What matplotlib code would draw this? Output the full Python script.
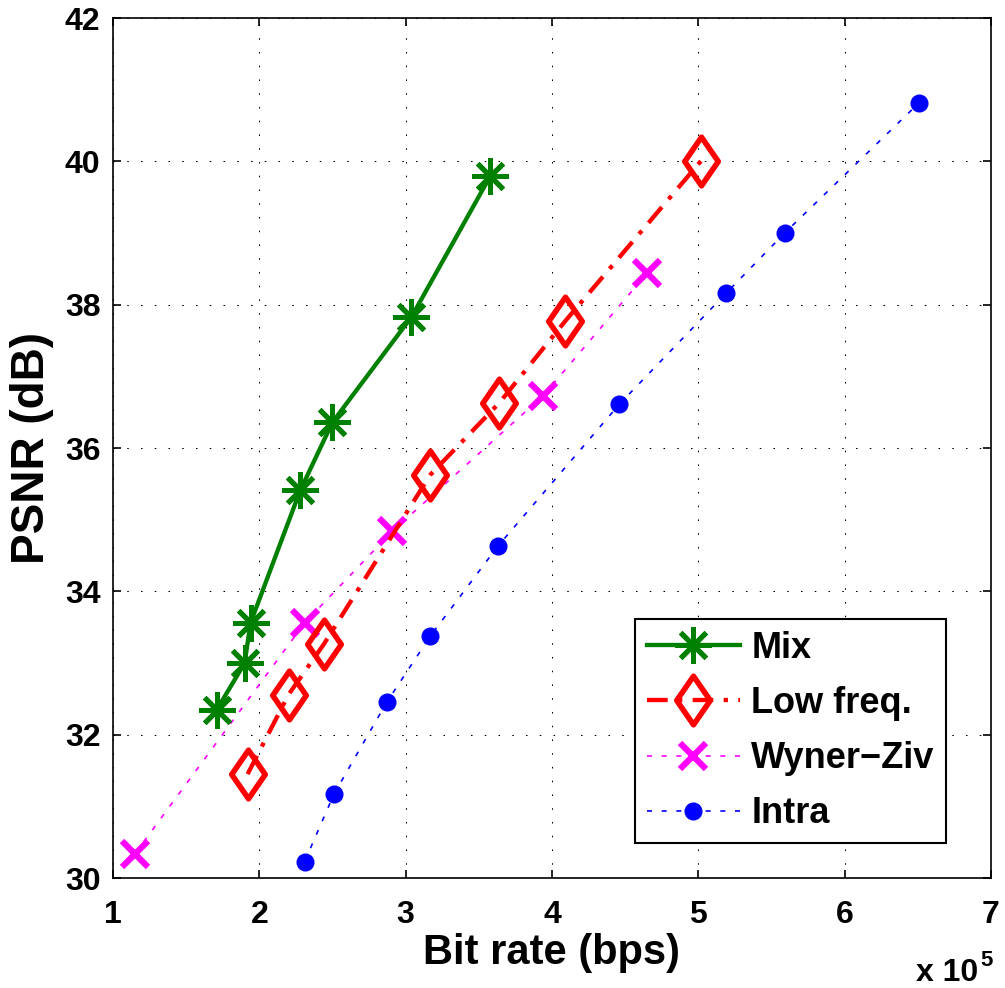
import numpy as np
import matplotlib
matplotlib.use("Agg")
import matplotlib.pyplot as plt
from matplotlib.path import Path

plt.rcParams['font.family'] = ['Liberation Sans', 'DejaVu Sans']
plt.rcParams['font.weight'] = 'bold'

# Data (bit rate in units of 1e5 bps, PSNR in dB)
mix_rate = [1.71, 1.90, 1.94, 2.28, 2.50, 3.04, 3.58]
mix_psnr = [32.35, 33.00, 33.56, 35.41, 36.36, 37.83, 39.80]

low_rate = [1.92, 2.20, 2.44, 3.17, 3.64, 4.09, 5.02]
low_psnr = [31.45, 32.56, 33.26, 35.63, 36.63, 37.77, 40.01]

wz_rate = [1.15, 2.31, 2.91, 3.94, 4.65]
wz_psnr = [30.34, 33.56, 34.84, 36.73, 38.44]

intra_rate = [2.31, 2.51, 2.87, 3.17, 3.63, 4.46, 5.19, 5.59, 6.51]
intra_psnr = [30.23, 31.17, 32.45, 33.38, 34.63, 36.61, 38.16, 39.00, 40.82]

labels = ['Mix', 'Low freq.', 'Wyner\u2212Ziv', 'Intra']
x_ticks = [1, 2, 3, 4, 5, 6, 7]
y_ticks = [30, 32, 34, 36, 38, 40, 42]

# MATLAB style markers
asterisk = (8, 2, 0)
diamond = Path([(0, 1), (0.69, 0), (0, -1), (-0.69, 0), (0, 1)],
               [Path.MOVETO, Path.LINETO, Path.LINETO, Path.LINETO, Path.CLOSEPOLY])

fig = plt.figure(figsize=(10.05, 9.88), dpi=100)
ax = fig.add_axes([0.1124, 0.1113, 0.8736, 0.8704])

ax.plot(mix_rate, mix_psnr, color='green', lw=3.1, marker=asterisk,
        ms=26, mew=3.6, label=labels[0], zorder=5)
ax.plot(low_rate, low_psnr, color='red', lw=3.1, dashes=(4.8, 2.4, 1, 2.4),
        marker=diamond, ms=35, mew=4, mfc='none', mec='red', label=labels[1], zorder=4)
ax.plot(wz_rate, wz_psnr, color='magenta', lw=1.2, dashes=(3, 5.8),
        marker='x', ms=19, mew=4.5, label=labels[2], zorder=3)
ax.plot(intra_rate, intra_psnr, color='blue', lw=1.2, dashes=(3, 5.8),
        marker='o', ms=13, mew=0, label=labels[3], zorder=3)

ax.set_xlim(1, 7)
ax.set_ylim(30, 42)
ax.set_xticks(x_ticks)
ax.set_yticks(y_ticks)
ax.tick_params(direction='in', length=6, width=1.2, labelsize=23,
               top=True, right=True)
ax.tick_params(axis='x', pad=16)
ax.tick_params(axis='y', pad=9)
for s in ax.spines.values():
    s.set_linewidth(1.2)

ax.grid(True, color='black', lw=0.75, dashes=(1.5, 11.7))

ax.set_xlabel('Bit rate (bps)', fontsize=30, fontweight='bold', labelpad=2)
ax.set_ylabel('PSNR (dB)', fontsize=33, fontweight='bold', labelpad=8)

fig.text(0.973, 0.0, 'x 10', fontsize=23, fontweight='bold', ha='right', va='bottom')
fig.text(0.975, 0.022, '5', fontsize=16, fontweight='bold', ha='left', va='baseline')

leg = ax.legend(loc='lower right', bbox_to_anchor=(0.949, 0.0407), borderaxespad=0,
                fontsize=26, fancybox=False, edgecolor='black', framealpha=1,
                handlelength=2.6, handletextpad=0.3, labelspacing=0.56,
                borderpad=0.32)
leg.get_frame().set_linewidth(1.5)

fig.savefig('out.png', dpi=100)
